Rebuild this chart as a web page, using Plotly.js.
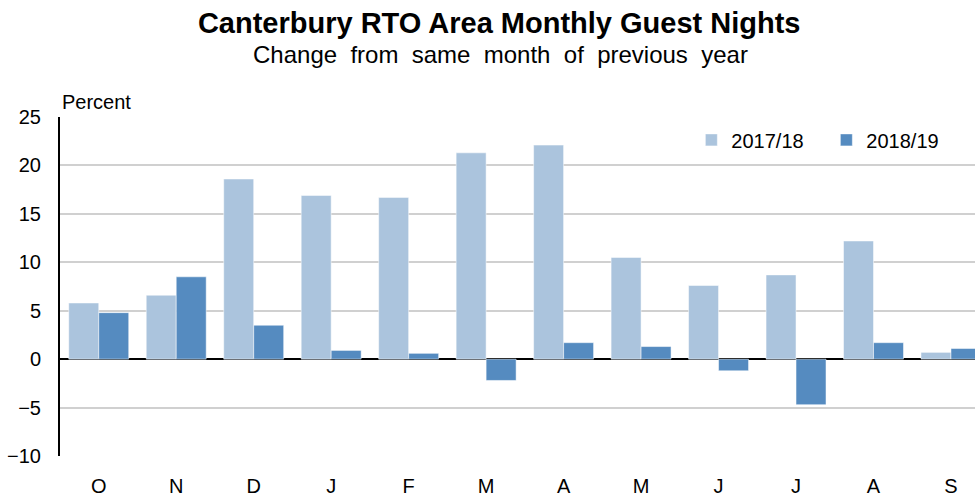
<!DOCTYPE html>
<html><head><meta charset="utf-8">
<script src="https://cdn.plot.ly/plotly-3.0.1.min.js"></script>
<style>html,body{margin:0;padding:0;overflow:hidden;background:#fff}</style>
</head><body><div id="chart" style="width:975px;height:496px"></div>
<script>
const months = ["O","N","D","J","F","M","A","M","J","J","A","S"];
const series1Name = "2017/18";
const series2Name = "2018/19";
const values1718 = [5.8, 6.6, 18.6, 16.9, 16.7, 21.3, 22.1, 10.5, 7.6, 8.7, 12.2, 0.7];
const values1819 = [4.8, 8.5, 3.5, 0.9, 0.6, -2.2, 1.7, 1.3, -1.2, -4.7, 1.7, 1.1];
const yTicks = [-10, -5, 0, 5, 10, 15, 20, 25];

const idx = months.map((m, i) => i);
const font = "Liberation Sans, Arial, sans-serif";

const traces = [
  {type: "bar", name: series1Name, x: idx, y: values1718, marker: {color: "#abc4dd", line: {color: "#ffffff", width: 0.5}}},
  {type: "bar", name: series2Name, x: idx, y: values1819, marker: {color: "#558bc0", line: {color: "#ffffff", width: 0.5}}}
];

const layout = {
  width: 975, height: 496,
  margin: {l: 60, r: 0, t: 117, b: 40},
  paper_bgcolor: "#fff", plot_bgcolor: "#fff",
  font: {family: font, size: 20, color: "#000"},
  barmode: "group", bargap: 0.226, bargroupgap: 0,
  showlegend: true,
  legend: {orientation: "h", x: 0.69, xanchor: "left", y: 0.99, yanchor: "top",
           font: {size: 20}, bgcolor: "rgba(0,0,0,0)", itemwidth: 30, traceorder: "normal",
           entrywidth: 90, entrywidthmode: "pixels"},
  title: {text: "<b>Canterbury RTO Area Monthly Guest Nights</b>", font: {size: 29, family: font},
          x: 0.512, xref: "container", xanchor: "center", y: 0.954, yref: "container", yanchor: "middle"},
  annotations: [
    {text: "Change  from  same  month  of  previous  year", xref: "paper", yref: "paper",
     x: 0.481, y: 1.183, xanchor: "center", yanchor: "middle", showarrow: false, font: {size: 24}},
    {text: "Percent", xref: "paper", yref: "paper", x: 0.0, y: 1.005, xanchor: "left", yanchor: "bottom",
     showarrow: false, font: {size: 20}}
  ],
  xaxis: {
    range: [-0.5, 11.31], tickmode: "array", tickvals: idx, ticktext: months,
    showgrid: false, zeroline: false, showline: false,
    ticks: "outside", ticklen: 12, tickcolor: "rgba(0,0,0,0)",
    tickfont: {size: 20}, fixedrange: true
  },
  yaxis: {
    range: [-10, 25], tickmode: "array", tickvals: yTicks,
    showgrid: true, gridcolor: "#d0d0d0", gridwidth: 2,
    zeroline: true, zerolinecolor: "#000", zerolinewidth: 2,
    showline: true, linecolor: "#000", linewidth: 2,
    ticks: "outside", ticklen: 13, tickcolor: "rgba(0,0,0,0)",
    tickfont: {size: 20}, fixedrange: true
  }
};

Plotly.newPlot("chart", traces, layout, {displayModeBar: false, staticPlot: true});
</script></body></html>
